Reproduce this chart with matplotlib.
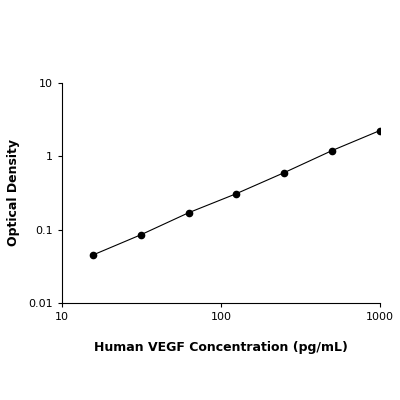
import matplotlib
matplotlib.use("Agg")
import matplotlib.pyplot as plt
from matplotlib.ticker import FixedLocator, NullLocator, FixedFormatter

conc = [15.6, 31.25, 62.5, 125, 250, 500, 1000]
od = [0.045, 0.085, 0.17, 0.31, 0.60, 1.20, 2.25]
xticks = [10, 100, 1000]
xlabels = ["10", "100", "1000"]
yticks = [0.01, 0.1, 1, 10]
ylabels = ["0.01", "0.1", "1", "10"]

fig = plt.figure(figsize=(4, 4), dpi=100)
ax = fig.add_axes([0.155, 0.2425, 0.795, 0.55])
ax.plot(conc, od, color="black", lw=0.8, marker="o", ms=4.5)
ax.set_xscale("log"); ax.set_yscale("log")
ax.set_xlim(10, 1000); ax.set_ylim(0.01, 10)
ax.xaxis.set_major_locator(FixedLocator(xticks))
ax.xaxis.set_major_formatter(FixedFormatter(xlabels))
ax.yaxis.set_major_locator(FixedLocator(yticks))
ax.yaxis.set_major_formatter(FixedFormatter(ylabels))
ax.xaxis.set_minor_locator(NullLocator()); ax.yaxis.set_minor_locator(NullLocator())
for s in ["top", "right"]:
    ax.spines[s].set_visible(False)
ax.tick_params(labelsize=8, length=3, width=0.8)
ax.set_xlabel("Human VEGF Concentration (pg/mL)", fontsize=9, fontweight="bold", labelpad=14)
ax.set_ylabel("Optical Density", fontsize=9, fontweight="bold", labelpad=6)
fig.savefig("out.png", dpi=100)
